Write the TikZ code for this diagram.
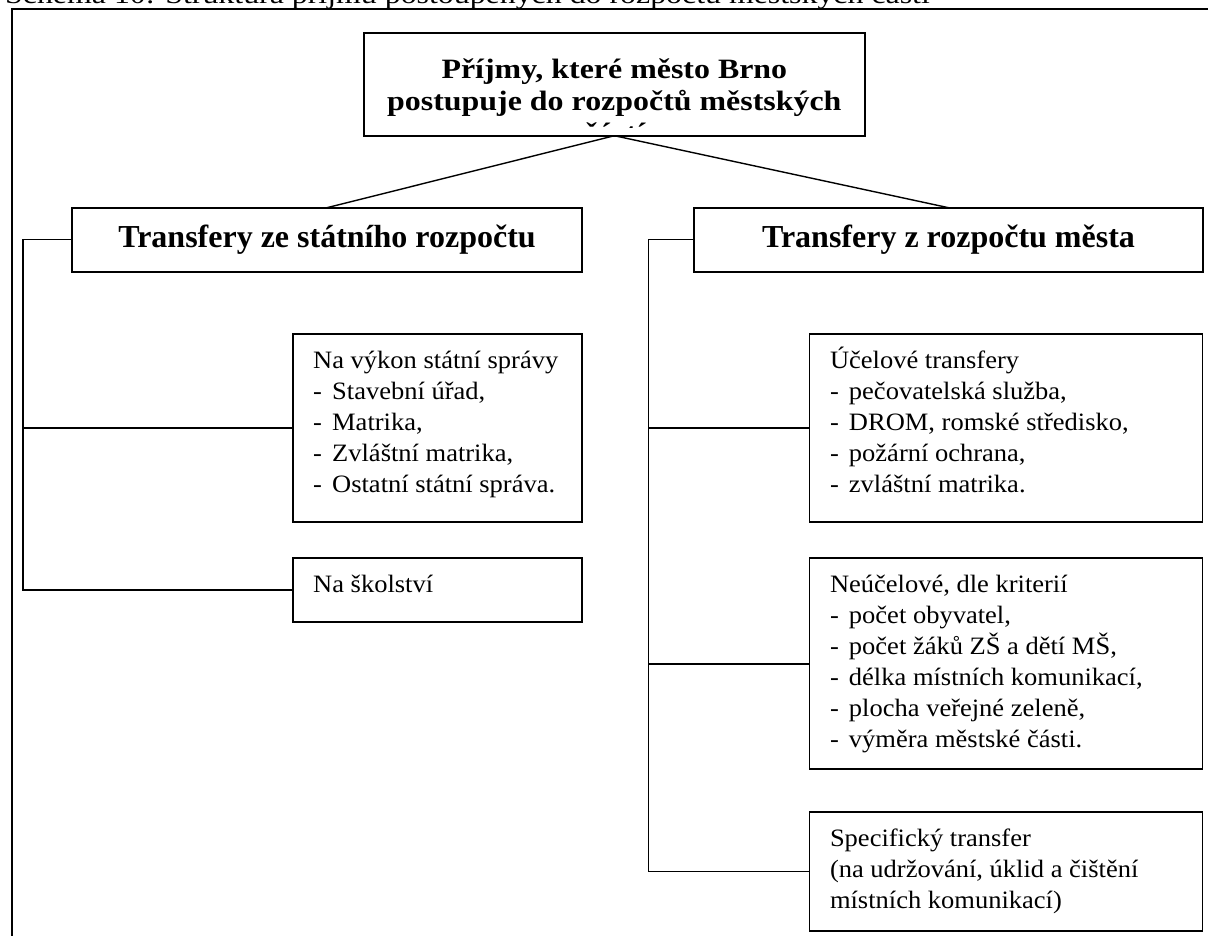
\documentclass[tikz,border=0pt]{standalone}
\usepackage{fontspec}
\setmainfont{Liberation Serif}
\newfontfamily\topfont[FakeStretch=1.14]{Liberation Serif}
\newfontfamily\bodyfont[FakeStretch=1.06]{Liberation Serif}
\newfontfamily\capfont[FakeStretch=1.18]{Liberation Serif}
\newcommand{\itm}{\makebox[19pt][l]{-}}
\newcommand{\boxbody}[3]{\parbox[c][#2][t]{#1}{\setlength{\parindent}{0pt}\setlength{\leftskip}{20.5pt}\rule{0pt}{34.5pt}#3\par}}
\tikzset{
  frameline/.style={line width=2pt},
  box/.style={draw, line width=1.9pt, inner sep=0pt, outer sep=0pt},
  bodytext/.style={font=\bodyfont\fontsize{25}{31}\selectfont},
  titlebox/.style={box, font=\fontsize{32}{37}\selectfont\bfseries, align=center},
  conn/.style={line width=1.4pt},
}
\begin{document}
\begin{tikzpicture}[x=1pt,y=-1pt]
\useasboundingbox (0,0) rectangle (1208,935);
\clip (0,0) rectangle (1208,935);

% cut-off caption above the frame
\node[anchor=base west, inner sep=0pt, font=\capfont\fontsize{27}{31}\selectfont] (caption) at (5,3.5)
  {Schéma 10: Struktura příjmů postoupených do rozpočtů městských částí};

% frame
\draw[frameline] (1215,9) -- (11.5,9) -- (11.5,945);

% top box
\node[box, minimum width=500.7pt, minimum height=102.4pt] (top) at (614.35,84.5) {};
\begin{scope}
  \clip (364,33) rectangle (865,127.5);
  \node[inner sep=0pt, font=\topfont\fontsize{28}{32}\selectfont\bfseries] (toptxt) at (614.35,84.5)
    {\parbox[c][102.4pt][t]{500.7pt}{\centering\rule{0pt}{44.7pt}Příjmy, které město Brno\\postupuje do rozpočtů městských\\částí\par}};
\end{scope}

% title boxes
\node[titlebox, minimum width=510.6pt, minimum height=64pt] (lt) at (327,239.7) {Transfery ze státního rozpočtu};
\node[titlebox, minimum width=509pt, minimum height=64pt] (rt) at (948.5,239.7) {Transfery z rozpočtu města};

% left children
\node[box, bodytext] (vykon) at (437.5,427.85) {\boxbody{289.6pt}{187.7pt}{Na výkon státní správy\\
\itm Stavební úřad,\\
\itm Matrika,\\
\itm Zvláštní matrika,\\
\itm Ostatní státní správa.}};
\node[box, bodytext] (skol) at (437.5,590) {\boxbody{289.6pt}{64pt}{Na školství}};

% right children
\node[box, bodytext] (ucel) at (1006,427.85) {\boxbody{393pt}{187.7pt}{Účelové transfery\\
\itm pečovatelská služba,\\
\itm DROM, romské středisko,\\
\itm požární ochrana,\\
\itm zvláštní matrika.}};
\node[box, bodytext] (neucel) at (1006,663.8) {\boxbody{393pt}{211pt}{Neúčelové, dle kriterií\\
\itm počet obyvatel,\\
\itm počet žáků ZŠ a dětí MŠ,\\
\itm délka místních komunikací,\\
\itm plocha veřejné zeleně,\\
\itm výměra městské části.}};
\node[box, bodytext] (spec) at (1006,871.65) {\boxbody{393pt}{118.7pt}{Specifický transfer\\
(na udržování, úklid a čištění\\
místních komunikací)}};

% connectors
\draw[conn] (top.south) -- (lt.north);
\draw[conn] (top.south) -- (rt.north);

\coordinate (lbx) at (23,0);
\draw[conn] (lt.west) -- (lt.west -| lbx) -- (lbx |- skol.west) -- (skol.west);
\draw[conn] (lbx |- vykon.west) -- (vykon.west);

\coordinate (rbx) at (648.5,0);
\draw[conn] (rt.west) -- (rt.west -| rbx) -- (rbx |- spec.west) -- (spec.west);
\draw[conn] (rbx |- ucel.west) -- (ucel.west);
\draw[conn] (rbx |- neucel.west) -- (neucel.west);
\end{tikzpicture}
\end{document}
